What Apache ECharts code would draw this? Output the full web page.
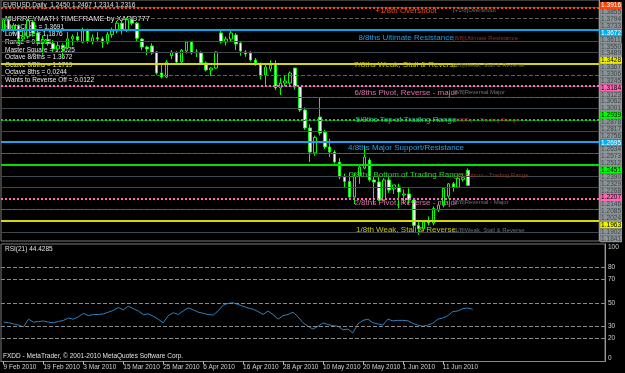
<!DOCTYPE html>
<html><head><meta charset="utf-8">
<script src="https://cdn.jsdelivr.net/npm/echarts@6/dist/echarts.min.js"></script>
<style>html,body{margin:0;padding:0;background:#000}#c{width:625px;height:373px}</style>
</head><body><div id="c"></div>
<script>
// ---------- data ----------
const dates = ['9 Feb 2010','10 Feb 2010','11 Feb 2010','12 Feb 2010','15 Feb 2010','16 Feb 2010','17 Feb 2010','18 Feb 2010','19 Feb 2010','22 Feb 2010','23 Feb 2010','24 Feb 2010','25 Feb 2010','26 Feb 2010',
'1 Mar 2010','2 Mar 2010','3 Mar 2010','4 Mar 2010','5 Mar 2010','8 Mar 2010','9 Mar 2010','10 Mar 2010','11 Mar 2010','12 Mar 2010','15 Mar 2010','16 Mar 2010','17 Mar 2010','18 Mar 2010','19 Mar 2010','22 Mar 2010','23 Mar 2010','24 Mar 2010','25 Mar 2010','26 Mar 2010','29 Mar 2010','30 Mar 2010','31 Mar 2010',
'1 Apr 2010','2 Apr 2010','5 Apr 2010','6 Apr 2010','7 Apr 2010','8 Apr 2010','9 Apr 2010','12 Apr 2010','13 Apr 2010','14 Apr 2010','15 Apr 2010','16 Apr 2010','19 Apr 2010','20 Apr 2010','21 Apr 2010','22 Apr 2010','23 Apr 2010','26 Apr 2010','27 Apr 2010','28 Apr 2010','29 Apr 2010','30 Apr 2010',
'3 May 2010','4 May 2010','5 May 2010','6 May 2010','7 May 2010','10 May 2010','11 May 2010','12 May 2010','13 May 2010','14 May 2010','17 May 2010','18 May 2010','19 May 2010','20 May 2010','21 May 2010','24 May 2010','25 May 2010','26 May 2010','27 May 2010','28 May 2010','31 May 2010',
'1 Jun 2010','2 Jun 2010','3 Jun 2010','4 Jun 2010','7 Jun 2010','8 Jun 2010','9 Jun 2010','10 Jun 2010','11 Jun 2010','14 Jun 2010','15 Jun 2010','16 Jun 2010','17 Jun 2010','18 Jun 2010','21 Jun 2010'];

const opens  = [1.3700,1.3790,1.3700,1.3740,1.3620,1.3640,1.3770,1.3672,1.3590,1.3610,1.3580,1.3530,1.3560,1.3540,
1.3620,1.3640,1.3590,1.3700,1.3600,1.3630,1.3620,1.3590,1.3660,1.3690,1.3760,1.3700,1.3790,1.3760,1.3618,1.3547,1.3556,1.3503,1.3316,1.3280,1.3470,1.3494,1.3414,
1.3512,1.3592,1.3494,1.3494,1.3405,1.3343,1.3360,1.3672,1.3592,1.3618,1.3654,1.3583,1.3503,1.3494,1.3432,1.3396,1.3298,1.3351,1.3387,1.3183,1.3227,1.3227,
1.3360,1.3192,1.2987,1.2827,1.2605,1.2924,1.2790,1.2658,1.2613,1.2524,1.2390,1.2350,1.2212,1.2400,1.2470,1.2541,1.2364,1.2346,1.2186,1.2364,1.2284,
1.2302,1.2230,1.2240,1.2186,1.1960,1.1930,1.1990,1.1981,1.2097,1.2140,1.2220,1.2330,1.2300,1.2370,1.2450];
const highs  = [1.3800,1.3820,1.3760,1.3750,1.3680,1.3800,1.3790,1.3690,1.3650,1.3660,1.3610,1.3600,1.3580,1.3680,
1.3660,1.3680,1.3720,1.3710,1.3660,1.3680,1.3640,1.3680,1.3720,1.3780,1.3790,1.3810,1.3810,1.3770,1.3627,1.3560,1.3580,1.3510,1.3400,1.3430,1.3520,1.3510,1.3530,
1.3600,1.3600,1.3530,1.3510,1.3420,1.3370,1.3510,1.3699,1.3640,1.3690,1.3672,1.3600,1.3520,1.3510,1.3450,1.3410,1.3405,1.3430,1.3430,1.3272,1.3290,1.3330,
1.3360,1.3200,1.3010,1.2860,1.2760,1.3094,1.2810,1.2730,1.2630,1.2560,1.2420,1.2430,1.2430,1.2500,1.2670,1.2560,1.2390,1.2400,1.2380,1.2390,1.2320,
1.2330,1.2280,1.2290,1.2190,1.2010,1.2000,1.2040,1.2130,1.2160,1.2300,1.2337,1.2346,1.2400,1.2420,1.2467];
const lows   = [1.3680,1.3690,1.3660,1.3580,1.3600,1.3620,1.3640,1.3560,1.3480,1.3560,1.3500,1.3510,1.3450,1.3530,
1.3560,1.3590,1.3580,1.3580,1.3570,1.3590,1.3540,1.3570,1.3630,1.3670,1.3660,1.3680,1.3740,1.3600,1.3520,1.3476,1.3480,1.3300,1.3268,1.3270,1.3440,1.3400,1.3400,
1.3490,1.3480,1.3460,1.3400,1.3330,1.3290,1.3350,1.3580,1.3560,1.3600,1.3520,1.3470,1.3460,1.3420,1.3380,1.3260,1.3210,1.3330,1.3165,1.3120,1.3200,1.3210,
1.3170,1.2970,1.2810,1.2524,1.2580,1.2760,1.2640,1.2570,1.2510,1.2370,1.2292,1.2190,1.2150,1.2330,1.2460,1.2350,1.2150,1.2180,1.2180,1.2250,1.2240,
1.2110,1.2150,1.2150,1.1940,1.1876,1.1910,1.1960,1.1960,1.2080,1.2120,1.2200,1.2260,1.2290,1.2350,1.2314];
const closes = [1.3790,1.3700,1.3740,1.3620,1.3640,1.3780,1.3672,1.3590,1.3610,1.3580,1.3530,1.3560,1.3540,1.3620,
1.3640,1.3610,1.3700,1.3600,1.3630,1.3620,1.3590,1.3660,1.3690,1.3760,1.3700,1.3790,1.3760,1.3625,1.3547,1.3530,1.3494,1.3316,1.3280,1.3414,1.3503,1.3414,1.3520,
1.3592,1.3494,1.3503,1.3405,1.3343,1.3360,1.3503,1.3592,1.3618,1.3672,1.3574,1.3512,1.3485,1.3432,1.3396,1.3289,1.3369,1.3387,1.3183,1.3227,1.3245,1.3316,
1.3192,1.2987,1.2827,1.2613,1.2743,1.2782,1.2658,1.2613,1.2524,1.2390,1.2350,1.2212,1.2400,1.2479,1.2568,1.2364,1.2346,1.2186,1.2364,1.2275,1.2320,
1.2257,1.2240,1.2186,1.1960,1.1930,1.1990,1.1981,1.2110,1.2140,1.2290,1.2330,1.2300,1.2380,1.2385,1.2316];

const rsi = [33.6,33,32,31,29.5,36,33.5,34,34.5,33.5,33,34,35,37,36,38,41,39,40,40,40.5,42,43.5,46,44,47,45,43,40,40.5,38.5,36,33,39,41.5,40,43,45.6,44,42,41,40,39.5,43,48,49.5,50,48.5,47,45.5,44.5,42.5,40,43,40,36,39,40,42,38,33,30,27.6,30,32.8,31.5,30.5,30,27,27.6,24.3,32,35,36,33,32,31,36,34.6,35,35,34.6,32.5,31,30,31,32.5,36,37,39,42.5,43,45,45.5,44.4];

// Murrey math octave levels (from +1/8 down to 1/8) and all 1/32 price ticks
const octaveLevels = [1.3916,1.3672,1.3428,1.3184,1.2939,1.2695,1.2451,1.2207,1.1963];
const levelNames = ['+1/8th Overshoot','8/8ths Ultimate Resistance','7/8ths Weak, Stall & Reverse','6/8ths Pivot, Reverse - major','5/8ths Top of Trading Range','4/8ths Major Support/Resistance','3/8ths Bottom of Trading Range','2/8ths Pivot, Reverse - major','1/8th Weak, Stall & Reverse'];
const levelTags = ['[+1/8]Overshoot','[8/8]Ultimate Resistance','[7/8]Weak, Stall & Reverse','[6/8]Reversal Major','[5/8]Top - Trading Range','','[3/8]Bottom - Trading Range','[2/8]Reversal - Major','[1/8]Weak, Stall & Reverse'];
const priceTicks = ['1.3916','1.3855','1.3794','1.3733','1.3672','1.3611','1.3550','1.3489','1.3428','1.3367','1.3306','1.3245','1.3184','1.3123','1.3062','1.3001','1.2939','1.2878','1.2817','1.2756','1.2695','1.2634','1.2573','1.2512','1.2451','1.2390','1.2329','1.2268','1.2207','1.2146','1.2085','1.2024','1.1963','1.1902','1.1841'];
const rsiTicks = [0,20,30,50,70,80,100];
const rsiLevels = [20,30,50,70,80];
const infoTitle = 'EURUSD,Daily  1.2450 1.2467 1.2314 1.2316';
const infoLines = ['MURREYMATH TIMEFRAME by XARD777','High Close = 1.3691','Low Close = 1.1876','Range = 0.1815','Master Square = 1.5625','Octave 8/8ths = 1.3672','Octave 0/8ths = 1.1719','Octave 8ths = 0.0244','Wants to Reverse Off = 0.0122'];
const rsiTitle = 'RSI(21) 44.4285';
const footer = 'FXDD - MetaTrader, \u00a9 2001-2010 MetaQuotes Software Corp.';

// ---------- styles ----------
const FONT = 'Liberation Sans';
const lineColors = ['#ff4500','#00a8f0','#d8d800','#ff69b4','#00e000','#1e9ff0','#00e000','#ff69b4','#d8d800'];
const lineTypes  = ['dotted','solid','solid','dotted','dotted','solid','solid','dotted','solid'];
const textColors = ['#f04a20','#1e9ee8','#c8c800','#d872a8','#20c878','#28a0e8','#20d820','#d872a8','#c8c800'];
const tagColors  = ['#707070','#8a3424','#707070','#707070','#8a3424','#707070','#8a3424','#707070','#707070'];
const boxBg   = ['#ff4500','#00b0f0','#f0f000','#ff69b4','#00ff00','#00b0f0','#00ff00','#ff69b4','#f0f000'];
const boxText = ['#ffffff','#ffffff','#000000','#000000','#000000','#ffffff','#000000','#000000','#000000'];
const NAME_AT = 81, TAG_AT = 91;

const NCAT = 121;
const cats = dates.concat(new Array(NCAT - dates.length).fill(''));
const ohlc = dates.map((d,i)=>[opens[i],closes[i],lows[i],highs[i]]);
const allVals = priceTicks.map(Number);

const rich = {g:{color:'#3c4448',backgroundColor:'#8c9497',fontSize:6.5,fontFamily:FONT,padding:[0,1],lineHeight:7}};
octaveLevels.forEach((v,i)=>{rich['m'+i]={color:boxText[i],backgroundColor:boxBg[i],fontSize:6.5,fontFamily:FONT,padding:[0,1],lineHeight:7};});

const gridLines = allVals.map((v,i)=>{
  if (i%4===0) return null;
  return {yAxis:v, lineStyle:{color: i%4===2 ? '#5e5e5e' : '#3f484e', type: i%4===2 ? 'dashed' : 'solid', width:1}};
}).filter(Boolean);
const majorLines = octaveLevels.map((v,i)=>({yAxis:v, lineStyle:{color:lineColors[i], type:lineTypes[i], width:2}}));

const chart = echarts.init(document.getElementById('c'), null, {renderer:'canvas'});
const baseGraphic = [
  {type:'text', left:3, top:2, style:{text:infoTitle, fill:'#e0e0e0', font:'6.5px "Liberation Sans"'}},
  {type:'group', left:5, top:15, children: infoLines.map((t,i)=>({type:'text', x:0, y: i===0?0:(i*7.6+1),
    style:{text:t, fill:'#e8e8e8', font:(i===0?'7.5px':'6.5px')+' "Liberation Sans"'}}))},
  {type:'text', left:5, top:246, style:{text:rsiTitle, fill:'#e0e0e0', font:'6.5px "Liberation Sans"'}},
  {type:'text', left:3, top:353, style:{text:footer, fill:'#e0e0e0', font:'6.5px "Liberation Sans"'}}
];
chart.setOption({
  backgroundColor:'#000000',
  animation:false,
  grid:[
    {left:1, top:0, width:604, height:241, show:true, borderColor:'#7a7a7a', borderWidth:1, backgroundColor:'#000'},
    {left:1, top:244, width:604, height:117.5, show:true, borderColor:'#7a7a7a', borderWidth:1, backgroundColor:'#000'}
  ],
  xAxis:[
    {type:'category', gridIndex:0, data:cats, axisLine:{show:false}, axisTick:{show:false}, axisLabel:{show:false}},
    {type:'category', gridIndex:1, data:cats, axisLine:{show:true, lineStyle:{color:'#8a8a8a'}},
     axisTick:{show:true, alignWithLabel:true, length:3, lineStyle:{color:'#c0c0c0'}, interval:(i)=> i%8===0 && i<dates.length},
     axisLabel:{show:true, interval:(i)=> i%8===0 && i<dates.length, align:'left', margin:2, color:'#d0d0d0', fontSize:6.5, fontFamily:FONT}}
  ],
  yAxis:[
    {type:'value', gridIndex:0, position:'right', min:1.1821, max:1.3966, splitLine:{show:false},
     axisLine:{show:true, lineStyle:{color:'#9a9a9a'}}, axisTick:{show:false},
     axisLabel:{show:true, customValues:allVals, margin:1, fontFamily:FONT, fontSize:6.5,
       formatter:(v)=>{ const i = allVals.findIndex(x=>Math.abs(x-v)<1e-6); const txt = priceTicks[i];
         const m = octaveLevels.findIndex(x=>Math.abs(x-v)<1e-6); return m>=0 ? '{m'+m+'|'+txt+'}' : '{g|'+txt+'}'; },
       rich:rich}},
    {type:'value', gridIndex:1, position:'right', min:0, max:100, splitLine:{show:false},
     axisLine:{show:true, lineStyle:{color:'#9a9a9a'}}, axisTick:{show:false},
     axisLabel:{show:true, customValues:rsiTicks, margin:3, color:'#d0d0d0', fontSize:6.5, fontFamily:FONT,
       verticalAlignMinLabel:'bottom', verticalAlignMaxLabel:'top'}}
  ],
  series:[
    {type:'candlestick', name:'EURUSD', xAxisIndex:0, yAxisIndex:0, data:ohlc, barWidth:3,
     itemStyle:{color:'#000000', color0:'#ffffff', borderColor:'#00ff00', borderColor0:'#00ff00', borderWidth:1},
     markLine:{silent:true, symbol:['none','none'], label:{show:false}, data:gridLines.concat(majorLines)}, z:3},
    {type:'line', name:'RSI', xAxisIndex:1, yAxisIndex:1, data:rsi, symbol:'none', lineStyle:{color:'#2e7fc0', width:1}, z:4,
     markLine:{silent:true, symbol:['none','none'], label:{show:false}, lineStyle:{color:'#8a8a8a', type:'dashed', width:1}, data:rsiLevels.map(v=>({yAxis:v}))}}
  ],
  graphic: baseGraphic
});
// level texts, placed with the chart's own scales
const levelTexts = [];
octaveLevels.forEach((v,i)=>{
  const pn = chart.convertToPixel({xAxisIndex:0, yAxisIndex:0}, [NAME_AT, v]);
  const pt = chart.convertToPixel({xAxisIndex:0, yAxisIndex:0}, [TAG_AT, v]);
  levelTexts.push({type:'text', x:Math.round(pn[0]+2.5), y:Math.round(pn[1]+1), z:100,
    style:{text:levelNames[i], fill:textColors[i], font:'8px "Liberation Sans"', textAlign:'center', textVerticalAlign:'top'}});
  if (levelTags[i]) levelTexts.push({type:'text', x:Math.round(pt[0]), y:Math.round(pt[1]+4.5), z:100,
    style:{text:levelTags[i], fill:tagColors[i], font:'6px "Liberation Sans"', textAlign:'left', textVerticalAlign:'middle'}});
});
chart.setOption({graphic: baseGraphic.concat(levelTexts)}, {replaceMerge:['graphic']});
</script></body></html>
